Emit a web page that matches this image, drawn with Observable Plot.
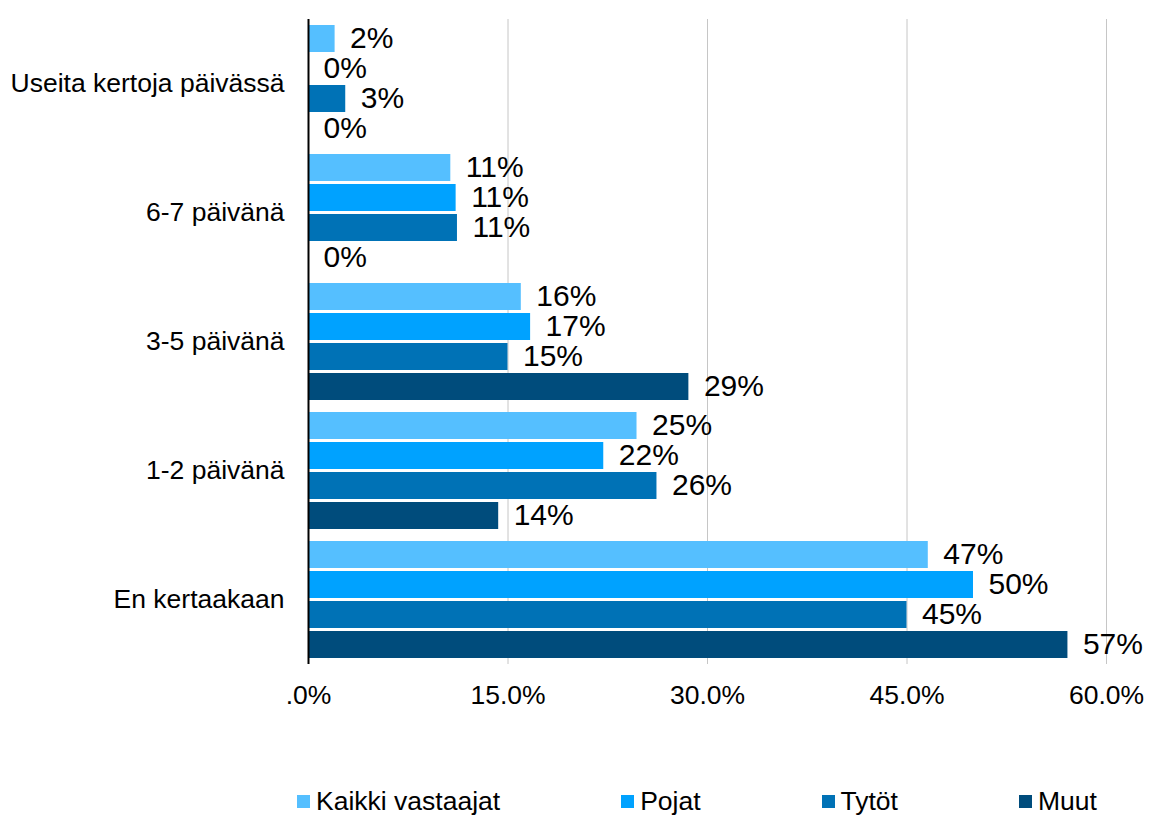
<!DOCTYPE html>
<html>
<head>
<meta charset="utf-8">
<script src="https://cdn.jsdelivr.net/npm/d3@7"></script>
<script src="https://cdn.jsdelivr.net/npm/@observablehq/plot@0.6"></script>
<style>
  body { margin: 0; background: #fff; font-family: "Liberation Sans", Arial, sans-serif; }
  #legend { display: flex; gap: 121px; padding-left: 297px; margin-top: 56px; font-size: 26.5px; line-height: 30px; color: #000; }
  #legend .item { display: flex; align-items: center; gap: 6px; }
  #legend .sw { width: 13px; height: 13px; display: inline-block; }
</style>
</head>
<body>
<div id="chart"></div>
<div id="legend"></div>
<script>
const categories = ["Useita kertoja päivässä", "6-7 päivänä", "3-5 päivänä", "1-2 päivänä", "En kertaakaan"];
const series = ["Kaikki vastaajat", "Pojat", "Tytöt", "Muut"];
const colors = ["#55bfff", "#00a2ff", "#0072b6", "#004c7c"];
const kaikki = [2.0, 10.7, 16.0, 24.7, 46.6];
const pojat  = [0, 11.1, 16.7, 22.2, 50.0];
const tytot  = [2.8, 11.2, 15.0, 26.2, 45.0];
const muut   = [0, 0, 28.6, 14.3, 57.1];
const xTicks = [0, 15, 30, 45, 60];
const xTickLabels = [".0%", "15.0%", "30.0%", "45.0%", "60.0%"];

const seriesValues = [kaikki, pojat, tytot, muut];
const data = [];
categories.forEach((c, i) => {
  series.forEach((s, j) => {
    data.push({category: c, series: s, value: seriesValues[j][i]});
  });
});

const chart = Plot.plot({
  width: 1149,
  height: 730,
  marginLeft: 308,
  marginRight: 43,
  marginTop: 18,
  marginBottom: 65,
  style: {fontSize: "26.5px", fontFamily: "Liberation Sans, Arial, sans-serif", color: "#000", background: "#fff"},
  x: {domain: [0, 60], ticks: xTicks, tickFormat: d => xTickLabels[xTicks.indexOf(d)], tickSize: 0, tickPadding: 21, label: null},
  y: {domain: series, axis: null, paddingInner: 0.1, paddingOuter: 0.185},
  fy: {domain: categories, padding: 0, label: null, tickSize: 0, tickPadding: 24},
  color: {domain: series, range: colors},
  facet: {data: data, y: "category"},
  marks: [
    Plot.ruleX(xTicks.slice(1), {stroke: "#c6c6c6", strokeWidth: 1}),
    Plot.barX(data, {x: "value", y: "series", fill: "series"}),
    Plot.text(data, {x: "value", y: "series", text: d => Math.round(d.value) + "%", textAnchor: "start", dx: 15, dy: -1, fontSize: 30, fill: "#000"}),
    Plot.ruleX([0], {stroke: "#000", strokeWidth: 2})
  ]
});
document.getElementById("chart").appendChild(chart);

const legend = document.getElementById("legend");
series.forEach((s, j) => {
  const item = document.createElement("div");
  item.className = "item";
  const sw = document.createElement("span");
  sw.className = "sw";
  sw.style.background = colors[j];
  const t = document.createElement("span");
  t.textContent = s;
  item.appendChild(sw);
  item.appendChild(t);
  legend.appendChild(item);
});
</script>
</body>
</html>
